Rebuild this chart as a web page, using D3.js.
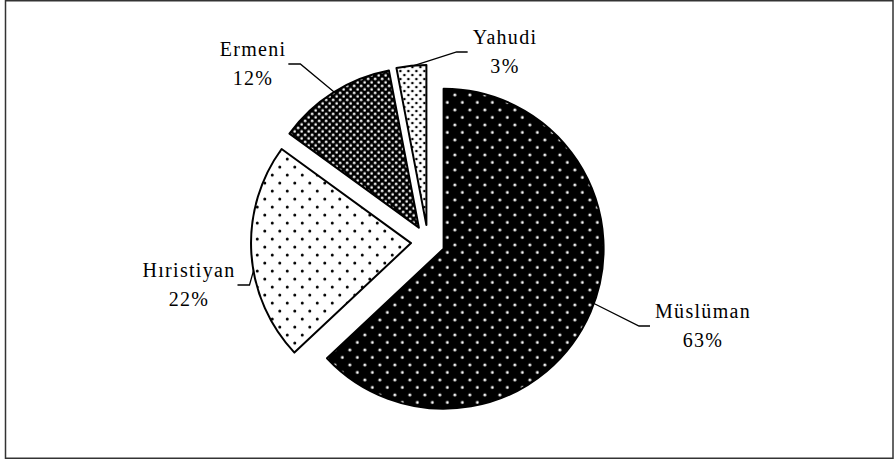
<!DOCTYPE html>
<html><head><meta charset="utf-8">
<script src="https://cdn.jsdelivr.net/npm/d3@7"></script>
<style>html,body{margin:0;padding:0;background:#fff;}svg{display:block;}</style>
</head><body>
<svg id="chart" width="896" height="461"></svg>
<script>
const categories = ["Müslüman", "Hıristiyan", "Ermeni", "Yahudi"];
const values = [63, 22, 12, 3];
const percentLabels = ["63%", "22%", "12%", "3%"];

const W = 896, H = 461;
const cx = 428, cy = 242, R = 160, explode = 17;
// label block centers and leader angles (layout only)
const layout = [
  {lx: 703, ly: 326, leaderDeg: 110, side: "left"},
  {lx: 189, ly: 285, leaderDeg: 260, side: "right"},
  {lx: 253, ly: 64, leaderDeg: 328, side: "right"},
  {lx: 505, ly: 52, leaderDeg: 355.5, side: "left"}
];

const svg = d3.select("#chart");
svg.append("rect").attr("x", 5.5).attr("y", 0.75).attr("width", 887.5).attr("height", 457.5)
  .attr("fill", "#fff").attr("stroke", "#333").attr("stroke-width", 1.5);

const defs = svg.append("defs");
function pat(id, w, h, bg, fg, r, pts) {
  const p = defs.append("pattern").attr("id", id).attr("patternUnits", "userSpaceOnUse")
    .attr("width", w).attr("height", h);
  p.append("rect").attr("width", w).attr("height", h).attr("fill", bg);
  pts.forEach(q => p.append("circle").attr("cx", q[0]).attr("cy", q[1]).attr("r", r).attr("fill", fg));
}
pat("p0", 15, 15, "#000", "#fff", 1.4, [[3.75, 3.75], [11.25, 11.25]]);
pat("p1", 15, 16, "#fff", "#000", 1.5, [[3.75, 4], [11.25, 12]]);
pat("p2", 7, 7, "#000", "#fff", 1.35, [[1.75, 1.75], [5.25, 5.25]]);
pat("p3", 8, 8, "#fff", "#000", 1.3, [[2, 2], [6, 6]]);
const fills = ["url(#p0)", "url(#p1)", "url(#p2)", "url(#p3)"];

const pie = d3.pie().sort(null).value(d => d).startAngle(0).endAngle(2 * Math.PI);
const arcs = pie(values);
const arc = d3.arc().innerRadius(0).outerRadius(R);

const g = svg.append("g").attr("transform", `translate(${cx},${cy})`);

arcs.forEach((a, i) => {
  const mid = (a.startAngle + a.endAngle) / 2;
  const ox = explode * Math.sin(mid), oy = -explode * Math.cos(mid);
  a.ox = ox; a.oy = oy;
  g.append("path").attr("d", arc(a)).attr("transform", `translate(${ox},${oy})`)
    .attr("fill", fills[i]).attr("stroke", "#000").attr("stroke-width", 2).attr("stroke-linejoin", "round");
});

const fontFam = "Liberation Serif";
arcs.forEach((a, i) => {
  const L = layout[i];
  const t = svg.append("text").attr("text-anchor", "middle")
    .attr("font-family", fontFam).attr("font-size", 20).attr("letter-spacing", 1.3).attr("fill", "#000");
  t.append("tspan").attr("x", L.lx).attr("y", L.ly - 8).text(categories[i]);
  t.append("tspan").attr("x", L.lx).attr("y", L.ly + 21).text(percentLabels[i]);
  const bb = t.node().getBBox();
  const ang = L.leaderDeg * Math.PI / 180;
  const sx = cx + a.ox + R * Math.sin(ang), sy = cy + a.oy - R * Math.cos(ang);
  let ex, elx;
  if (L.side === "left") { ex = bb.x - 5; elx = ex - 11; }
  else { ex = bb.x + bb.width + 2; elx = ex + 12; }
  svg.append("path").attr("d", d3.line()([[sx, sy], [elx, L.ly], [ex, L.ly]]))
    .attr("fill", "none").attr("stroke", "#000").attr("stroke-width", 1.3);
});
</script>
</body></html>
